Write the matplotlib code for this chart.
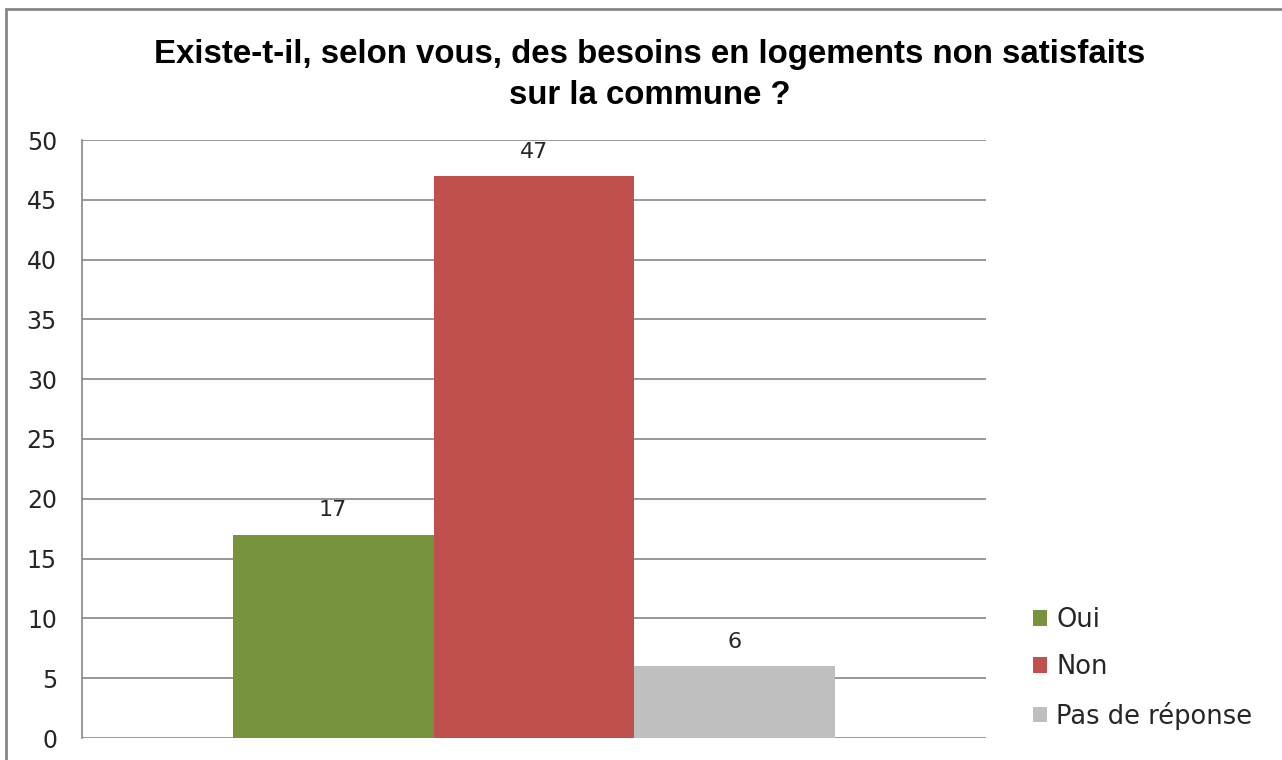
import matplotlib
matplotlib.use("Agg")
import matplotlib.pyplot as plt
from matplotlib.patches import Rectangle

title = "Existe-t-il, selon vous, des besoins en logements non satisfaits\nsur la commune ?"
categories = ["Oui", "Non", "Pas de réponse"]
values = [17, 47, 6]
colors = ["#77933C", "#C0504D", "#BFBFBF"]
yticks = [0, 5, 10, 15, 20, 25, 30, 35, 40, 45, 50]

fig = plt.figure(figsize=(12.82, 7.6), dpi=100)
fig.patch.set_facecolor("white")

# outer chart frame
fig.add_artist(Rectangle((6/1282, -0.05), 1.2, 1 - 9/760 + 0.05, transform=fig.transFigure,
                         fill=False, edgecolor="#868686", linewidth=2))

ax = fig.add_axes([82/1282, 1 - 738/760, (986 - 82)/1282, (738 - 140)/760])
positions = [-1, 0, 1]
bars = ax.bar(positions, values, width=1.0, color=colors, label=categories, zorder=3)
for x, v in zip(positions, values):
    ax.text(x, v + 1.2, str(v), ha="center", va="bottom", fontsize=16,
            family="DejaVu Sans", color="#262626", zorder=4)

ax.set_xlim(-2.25, 2.25)
ax.set_ylim(0, 50)
ax.set_yticks(yticks)
ax.set_yticklabels([str(t) for t in yticks], fontsize=17, color="#262626")
ax.set_xticks([])
ax.yaxis.grid(True, color="#868686", linewidth=1.2, zorder=0)
ax.tick_params(axis="y", length=0, pad=18)
for s in ["top", "right", "bottom"]:
    ax.spines[s].set_visible(False)
ax.spines["left"].set_color("#868686")
ax.spines["left"].set_linewidth(1.2)

fig.text(649.5/1282, 1 - 75/760, title, ha="center", va="center",
         fontsize=23.8, fontweight="bold", family="Liberation Sans", linespacing=1.4)

leg = fig.legend(handles=bars, labels=categories, loc="upper left",
                 bbox_to_anchor=(1033/1282, 1 - 607/760), frameon=False,
                 fontsize=18.5, handlelength=0.55, handleheight=0.55, handletextpad=0.36,
                 labelspacing=0.83, borderpad=0, borderaxespad=0)
for t in leg.get_texts():
    t.set_color("#262626")

fig.savefig("out.png", dpi=100)
